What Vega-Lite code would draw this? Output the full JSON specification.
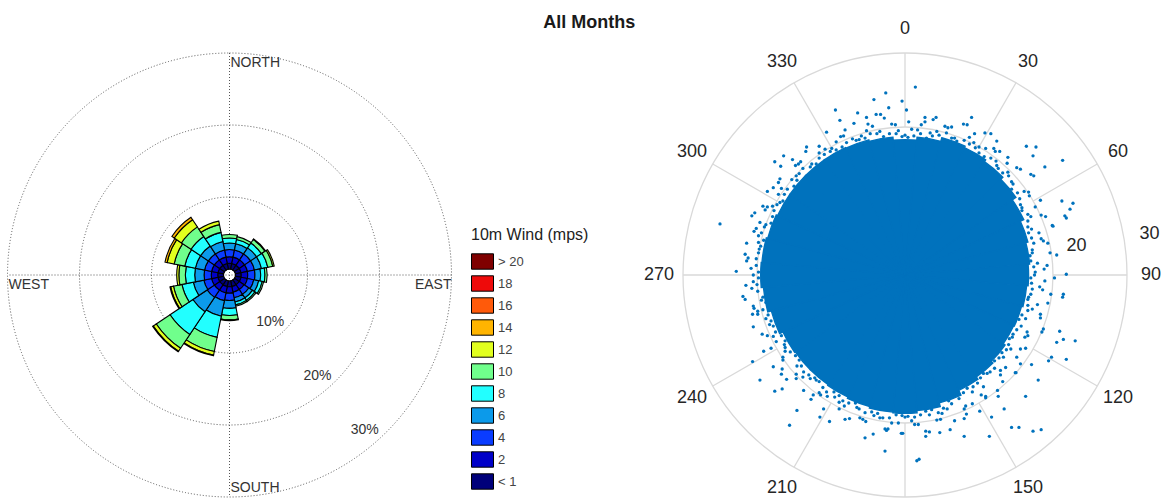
{
  "$schema": "https://vega.github.io/schema/vega-lite/v6.json",
  "background": "white",
  "padding": {"left": 5.5, "top": 14, "right": 0, "bottom": 0},
  "config": {"view": {"stroke": null}, "font": "Liberation Sans"},
  "title": {"text": "All Months", "fontSize": 18, "fontWeight": "bold", "font": "Liberation Sans", "color": "#1a1a1a", "anchor": "middle", "dx": 6, "offset": -12},
  "spacing": 231.5,
  "bounds": "flush",
  "resolve": {"scale": {"theta": "independent", "radius": "independent", "color": "independent", "x": "independent", "y": "independent"}, "legend": {"color": "independent"}},
  "datasets": {
    "dirs": [
      {"d": 0, "a0": -11.25, "a1": 11.25}, {"d": 22.5, "a0": 11.25, "a1": 33.75}, {"d": 45, "a0": 33.75, "a1": 56.25}, {"d": 67.5, "a0": 56.25, "a1": 78.75},
      {"d": 90, "a0": 78.75, "a1": 101.25}, {"d": 112.5, "a0": 101.25, "a1": 123.75}, {"d": 135, "a0": 123.75, "a1": 146.25}, {"d": 157.5, "a0": 146.25, "a1": 168.75},
      {"d": 180, "a0": 168.75, "a1": 191.25}, {"d": 202.5, "a0": 191.25, "a1": 213.75}, {"d": 225, "a0": 213.75, "a1": 236.25}, {"d": 247.5, "a0": 236.25, "a1": 258.75},
      {"d": 270, "a0": 258.75, "a1": 281.25}, {"d": 292.5, "a0": 281.25, "a1": 303.75}, {"d": 315, "a0": 303.75, "a1": 326.25}, {"d": 337.5, "a0": 326.25, "a1": 348.75}
    ],
    "rose": [
      {"d": 0, "s": 1, "p": 0.8}, {"d": 0, "s": 2, "p": 0.9}, {"d": 0, "s": 4, "p": 1.0}, {"d": 0, "s": 6, "p": 0.9}, {"d": 0, "s": 8, "p": 0.7}, {"d": 0, "s": 10, "p": 0.5},
      {"d": 22.5, "s": 1, "p": 0.8}, {"d": 22.5, "s": 2, "p": 0.9}, {"d": 22.5, "s": 4, "p": 1.0}, {"d": 22.5, "s": 6, "p": 0.9}, {"d": 22.5, "s": 8, "p": 0.6}, {"d": 22.5, "s": 10, "p": 0.4},
      {"d": 45, "s": 1, "p": 0.8}, {"d": 45, "s": 2, "p": 0.9}, {"d": 45, "s": 4, "p": 1.0}, {"d": 45, "s": 6, "p": 1.0}, {"d": 45, "s": 8, "p": 0.8}, {"d": 45, "s": 10, "p": 0.6}, {"d": 45, "s": 12, "p": 0.1},
      {"d": 67.5, "s": 1, "p": 0.8}, {"d": 67.5, "s": 2, "p": 0.9}, {"d": 67.5, "s": 4, "p": 1.0}, {"d": 67.5, "s": 6, "p": 1.0}, {"d": 67.5, "s": 8, "p": 0.9}, {"d": 67.5, "s": 10, "p": 0.7}, {"d": 67.5, "s": 12, "p": 0.2},
      {"d": 90, "s": 1, "p": 0.8}, {"d": 90, "s": 2, "p": 0.9}, {"d": 90, "s": 4, "p": 1.0}, {"d": 90, "s": 6, "p": 0.8}, {"d": 90, "s": 8, "p": 0.6}, {"d": 90, "s": 10, "p": 0.3},
      {"d": 112.5, "s": 1, "p": 0.8}, {"d": 112.5, "s": 2, "p": 0.9}, {"d": 112.5, "s": 4, "p": 0.9}, {"d": 112.5, "s": 6, "p": 0.7}, {"d": 112.5, "s": 8, "p": 0.5}, {"d": 112.5, "s": 10, "p": 0.2},
      {"d": 135, "s": 1, "p": 0.8}, {"d": 135, "s": 2, "p": 0.8}, {"d": 135, "s": 4, "p": 0.8}, {"d": 135, "s": 6, "p": 0.6}, {"d": 135, "s": 8, "p": 0.4}, {"d": 135, "s": 10, "p": 0.2},
      {"d": 157.5, "s": 1, "p": 0.8}, {"d": 157.5, "s": 2, "p": 0.8}, {"d": 157.5, "s": 4, "p": 0.8}, {"d": 157.5, "s": 6, "p": 0.6}, {"d": 157.5, "s": 8, "p": 0.4}, {"d": 157.5, "s": 10, "p": 0.2},
      {"d": 180, "s": 1, "p": 0.8}, {"d": 180, "s": 2, "p": 0.9}, {"d": 180, "s": 4, "p": 1.0}, {"d": 180, "s": 6, "p": 1.1}, {"d": 180, "s": 8, "p": 1.0}, {"d": 180, "s": 10, "p": 0.6}, {"d": 180, "s": 12, "p": 0.1},
      {"d": 202.5, "s": 1, "p": 0.8}, {"d": 202.5, "s": 2, "p": 0.9}, {"d": 202.5, "s": 4, "p": 1.1}, {"d": 202.5, "s": 6, "p": 2.2}, {"d": 202.5, "s": 8, "p": 3.0}, {"d": 202.5, "s": 10, "p": 2.0}, {"d": 202.5, "s": 12, "p": 0.5}, {"d": 202.5, "s": 14, "p": 0.1},
      {"d": 225, "s": 1, "p": 0.8}, {"d": 225, "s": 2, "p": 0.9}, {"d": 225, "s": 4, "p": 1.2}, {"d": 225, "s": 6, "p": 2.4}, {"d": 225, "s": 8, "p": 3.8}, {"d": 225, "s": 10, "p": 2.3}, {"d": 225, "s": 12, "p": 0.5}, {"d": 225, "s": 14, "p": 0.1},
      {"d": 247.5, "s": 1, "p": 0.8}, {"d": 247.5, "s": 2, "p": 0.9}, {"d": 247.5, "s": 4, "p": 1.1}, {"d": 247.5, "s": 6, "p": 1.5}, {"d": 247.5, "s": 8, "p": 1.6}, {"d": 247.5, "s": 10, "p": 1.2}, {"d": 247.5, "s": 12, "p": 0.4}, {"d": 247.5, "s": 14, "p": 0.1},
      {"d": 270, "s": 1, "p": 0.8}, {"d": 270, "s": 2, "p": 0.9}, {"d": 270, "s": 4, "p": 1.0}, {"d": 270, "s": 6, "p": 1.3}, {"d": 270, "s": 8, "p": 1.3}, {"d": 270, "s": 10, "p": 0.9}, {"d": 270, "s": 12, "p": 0.3},
      {"d": 292.5, "s": 1, "p": 0.8}, {"d": 292.5, "s": 2, "p": 0.9}, {"d": 292.5, "s": 4, "p": 1.0}, {"d": 292.5, "s": 6, "p": 1.3}, {"d": 292.5, "s": 8, "p": 1.5}, {"d": 292.5, "s": 10, "p": 1.5}, {"d": 292.5, "s": 12, "p": 1.0}, {"d": 292.5, "s": 14, "p": 0.3},
      {"d": 315, "s": 1, "p": 0.8}, {"d": 315, "s": 2, "p": 0.9}, {"d": 315, "s": 4, "p": 1.0}, {"d": 315, "s": 6, "p": 1.3}, {"d": 315, "s": 8, "p": 1.6}, {"d": 315, "s": 10, "p": 1.6}, {"d": 315, "s": 12, "p": 1.2}, {"d": 315, "s": 14, "p": 0.4},
      {"d": 337.5, "s": 1, "p": 0.8}, {"d": 337.5, "s": 2, "p": 0.9}, {"d": 337.5, "s": 4, "p": 1.0}, {"d": 337.5, "s": 6, "p": 1.2}, {"d": 337.5, "s": 8, "p": 1.3}, {"d": 337.5, "s": 10, "p": 1.1}, {"d": 337.5, "s": 12, "p": 0.5}
    ],
    "core": [
      {"a0": -5, "a1": 5, "r": 18.3}, {"a0": 5, "a1": 15, "r": 18.7}, {"a0": 15, "a1": 25, "r": 19.2}, {"a0": 25, "a1": 35, "r": 19.0},
      {"a0": 35, "a1": 45, "r": 18.7}, {"a0": 45, "a1": 55, "r": 18.3}, {"a0": 55, "a1": 65, "r": 17.7}, {"a0": 65, "a1": 75, "r": 17.2},
      {"a0": 75, "a1": 85, "r": 16.9}, {"a0": 85, "a1": 95, "r": 16.7}, {"a0": 95, "a1": 105, "r": 16.5}, {"a0": 105, "a1": 115, "r": 16.3},
      {"a0": 115, "a1": 125, "r": 16.2}, {"a0": 125, "a1": 135, "r": 16.5}, {"a0": 135, "a1": 145, "r": 16.8}, {"a0": 145, "a1": 155, "r": 17.2},
      {"a0": 155, "a1": 165, "r": 17.9}, {"a0": 165, "a1": 175, "r": 18.4}, {"a0": 175, "a1": 185, "r": 18.7}, {"a0": 185, "a1": 195, "r": 18.6},
      {"a0": 195, "a1": 205, "r": 18.4}, {"a0": 205, "a1": 215, "r": 18.2}, {"a0": 215, "a1": 225, "r": 18.1}, {"a0": 225, "a1": 235, "r": 18.1},
      {"a0": 235, "a1": 245, "r": 18.2}, {"a0": 245, "a1": 255, "r": 18.7}, {"a0": 255, "a1": 265, "r": 19.2}, {"a0": 265, "a1": 275, "r": 19.5},
      {"a0": 275, "a1": 285, "r": 19.4}, {"a0": 285, "a1": 295, "r": 19.2}, {"a0": 295, "a1": 305, "r": 19.0}, {"a0": 305, "a1": 315, "r": 19.0},
      {"a0": 315, "a1": 325, "r": 19.0}, {"a0": 325, "a1": 335, "r": 19.0}, {"a0": 335, "a1": 345, "r": 18.9}, {"a0": 345, "a1": 355, "r": 18.7}
    ],
    "pts": [
      {"x": 0, "y": 18.9}, {"x": 0.9, "y": 19.7}, {"x": 1.7, "y": 19.6}, {"x": 2.7, "y": 20.7}, {"x": 3.4, "y": 19.2}, {"x": 4.3, "y": 19.4}, {"x": 5.4, "y": 20.1}, {"x": 6.3, "y": 20.0}, {"x": 6.7, "y": 18.5}, {"x": 8.4, "y": 20.3}, {"x": 8.7, "y": 18.6}, {"x": 9.3, "y": 17.9}, {"x": 10.0, "y": 17.3}, {"x": 10.9, "y": 17.1}, {"x": 12.0, "y": 17.1}, {"x": 12.8, "y": 16.7}, {"x": 12.4, "y": 14.8}, {"x": 13.8, "y": 15.1}, {"x": 13.9, "y": 13.9}, {"x": 15.6, "y": 14.3}, {"x": 14.6, "y": 12.3}, {"x": 17.4, "y": 13.4}, {"x": 16.1, "y": 11.3}, {"x": 16.8, "y": 10.7}, {"x": 15.8, "y": 9.1}, {"x": 17.6, "y": 9.2}, {"x": 17.0, "y": 7.9}, {"x": 19.0, "y": 7.9}, {"x": 17.1, "y": 6.2}, {"x": 18.1, "y": 5.7}, {"x": 18.4, "y": 4.9}, {"x": 19.3, "y": 4.3}, {"x": 17.2, "y": 3.0}, {"x": 20.5, "y": 2.7}, {"x": 17.9, "y": 1.6}, {"x": 18.8, "y": 0.8},
      {"x": 17.5, "y": 0}, {"x": 18.9, "y": -0.8}, {"x": 18.2, "y": -1.6}, {"x": 19.7, "y": -2.6}, {"x": 16.7, "y": -3.0}, {"x": 17.9, "y": -4.0}, {"x": 17.2, "y": -4.6}, {"x": 18.3, "y": -5.8}, {"x": 16.3, "y": -5.9}, {"x": 18.5, "y": -7.7}, {"x": 16.5, "y": -7.7}, {"x": 16.2, "y": -8.4}, {"x": 14.5, "y": -8.4}, {"x": 15.6, "y": -10.0}, {"x": 14.3, "y": -10.0}, {"x": 15.6, "y": -12.0}, {"x": 13.3, "y": -11.1}, {"x": 13.6, "y": -12.5}, {"x": 12.9, "y": -12.9}, {"x": 13.2, "y": -14.4}, {"x": 11.1, "y": -13.3}, {"x": 12.6, "y": -16.4}, {"x": 10.6, "y": -15.1}, {"x": 10.3, "y": -16.2}, {"x": 9.1, "y": -15.8}, {"x": 9.1, "y": -17.4}, {"x": 8.2, "y": -17.7}, {"x": 8.0, "y": -19.4}, {"x": 6.3, "y": -17.4}, {"x": 5.7, "y": -18.1}, {"x": 5.0, "y": -18.7}, {"x": 4.3, "y": -19.6}, {"x": 3.3, "y": -18.9}, {"x": 2.8, "y": -21.1}, {"x": 1.8, "y": -20.2}, {"x": 0.9, "y": -19.7},
      {"x": 0, "y": -19.2}, {"x": -0.9, "y": -20.0}, {"x": -1.8, "y": -20.0}, {"x": -2.7, "y": -20.8}, {"x": -3.4, "y": -19.3}, {"x": -4.2, "y": -19.0}, {"x": -5.3, "y": -19.8}, {"x": -6.1, "y": -19.3}, {"x": -6.5, "y": -17.9}, {"x": -8.1, "y": -19.5}, {"x": -8.2, "y": -17.7}, {"x": -8.9, "y": -17.2}, {"x": -9.5, "y": -16.5}, {"x": -10.5, "y": -16.4}, {"x": -11.4, "y": -16.2}, {"x": -12.4, "y": -16.2}, {"x": -12.0, "y": -14.2}, {"x": -12.8, "y": -14.0}, {"x": -13.8, "y": -13.8}, {"x": -14.7, "y": -13.4}, {"x": -14.6, "y": -12.3}, {"x": -16.6, "y": -12.7}, {"x": -16.5, "y": -11.5}, {"x": -16.2, "y": -10.3}, {"x": -16.3, "y": -9.4}, {"x": -17.4, "y": -9.0}, {"x": -17.8, "y": -8.3}, {"x": -19.3, "y": -8.0}, {"x": -18.3, "y": -6.7}, {"x": -18.8, "y": -5.9}, {"x": -19.9, "y": -5.3}, {"x": -20.4, "y": -4.5}, {"x": -19.4, "y": -3.4}, {"x": -21.9, "y": -2.9}, {"x": -20.7, "y": -1.8}, {"x": -20.5, "y": -0.9},
      {"x": -20.5, "y": 0}, {"x": -20.8, "y": 0.9}, {"x": -21.4, "y": 1.9}, {"x": -21.6, "y": 2.8}, {"x": -19.7, "y": 3.5}, {"x": -19.8, "y": 4.4}, {"x": -19.8, "y": 5.3}, {"x": -20.1, "y": 6.3}, {"x": -18.8, "y": 6.8}, {"x": -20.3, "y": 8.4}, {"x": -18.9, "y": 8.8}, {"x": -17.9, "y": 9.3}, {"x": -16.9, "y": 9.8}, {"x": -17.1, "y": 10.9}, {"x": -16.7, "y": 11.7}, {"x": -16.9, "y": 13.0}, {"x": -15.3, "y": 12.9}, {"x": -14.7, "y": 13.4}, {"x": -14.8, "y": 14.8}, {"x": -14.1, "y": 15.3}, {"x": -12.6, "y": 15.0}, {"x": -13.3, "y": 17.3}, {"x": -11.6, "y": 16.5}, {"x": -10.8, "y": 17.0}, {"x": -9.9, "y": 17.1}, {"x": -9.3, "y": 18.0}, {"x": -8.7, "y": 18.7}, {"x": -8.1, "y": 19.6}, {"x": -6.6, "y": 18.2}, {"x": -5.9, "y": 18.8}, {"x": -5.2, "y": 19.5}, {"x": -4.4, "y": 20.1}, {"x": -3.4, "y": 19.4}, {"x": -2.8, "y": 21.2}, {"x": -1.8, "y": 20.4}, {"x": -0.9, "y": 19.5},
      {"x": 0.4, "y": 18.6}, {"x": 2.1, "y": 19.1}, {"x": 3.7, "y": 18.8}, {"x": 5.6, "y": 19.2}, {"x": 7.0, "y": 18.1}, {"x": 8.7, "y": 17.7}, {"x": 10.0, "y": 16.5}, {"x": 11.6, "y": 15.8}, {"x": 12.6, "y": 14.4}, {"x": 14.0, "y": 13.4}, {"x": 14.4, "y": 11.6}, {"x": 15.5, "y": 10.3}, {"x": 15.8, "y": 8.7}, {"x": 16.6, "y": 7.3}, {"x": 16.7, "y": 5.7}, {"x": 17.4, "y": 4.3}, {"x": 16.9, "y": 2.6}, {"x": 17.4, "y": 1.1},
      {"x": 17.0, "y": -0.4}, {"x": 17.2, "y": -1.9}, {"x": 16.6, "y": -3.3}, {"x": 16.6, "y": -4.8}, {"x": 15.4, "y": -6.0}, {"x": 15.1, "y": -7.4}, {"x": 14.1, "y": -8.6}, {"x": 13.7, "y": -10.1}, {"x": 12.7, "y": -11.2}, {"x": 12.1, "y": -12.6}, {"x": 10.6, "y": -13.3}, {"x": 9.8, "y": -14.6}, {"x": 8.4, "y": -15.3}, {"x": 7.3, "y": -16.7}, {"x": 5.9, "y": -17.0}, {"x": 4.5, "y": -18.6}, {"x": 2.8, "y": -18.4}, {"x": 1.3, "y": -19.2},
      {"x": -0.4, "y": -19.0}, {"x": -2.1, "y": -19.3}, {"x": -3.7, "y": -18.7}, {"x": -5.4, "y": -18.6}, {"x": -6.7, "y": -17.3}, {"x": -8.4, "y": -17.0}, {"x": -9.6, "y": -15.8}, {"x": -11.1, "y": -15.2}, {"x": -12.2, "y": -13.9}, {"x": -13.7, "y": -13.1}, {"x": -14.3, "y": -11.5}, {"x": -15.5, "y": -10.4}, {"x": -16.2, "y": -8.9}, {"x": -17.5, "y": -7.7}, {"x": -18.1, "y": -6.2}, {"x": -19.2, "y": -4.7}, {"x": -19.2, "y": -3.0}, {"x": -20.0, "y": -1.3},
      {"x": -19.8, "y": 0.4}, {"x": -20.1, "y": 2.2}, {"x": -19.5, "y": 3.9}, {"x": -19.4, "y": 5.7}, {"x": -18.1, "y": 7.0}, {"x": -17.7, "y": 8.7}, {"x": -16.5, "y": 10.0}, {"x": -15.9, "y": 11.6}, {"x": -14.6, "y": 12.8}, {"x": -13.8, "y": 14.4}, {"x": -12.0, "y": 15.0}, {"x": -10.9, "y": 16.3}, {"x": -9.3, "y": 16.9}, {"x": -7.9, "y": 17.9}, {"x": -6.2, "y": 18.3}, {"x": -4.7, "y": 19.1}, {"x": -2.9, "y": 18.7}, {"x": -1.2, "y": 19.1},
      {"x": 1.2, "y": 18.8}, {"x": 2.9, "y": 18.5}, {"x": 4.6, "y": 18.9}, {"x": 6.3, "y": 18.5}, {"x": 8.0, "y": 18.2}, {"x": 9.5, "y": 17.2}, {"x": 10.7, "y": 16.0}, {"x": 12.3, "y": 15.4}, {"x": 13.2, "y": 13.8}, {"x": 14.4, "y": 12.6}, {"x": 15.2, "y": 11.1}, {"x": 15.6, "y": 9.5}, {"x": 16.6, "y": 8.2}, {"x": 16.6, "y": 6.5}, {"x": 17.1, "y": 5.0}, {"x": 17.2, "y": 3.4}, {"x": 17.0, "y": 1.9}, {"x": 17.6, "y": 0.4},
      {"x": 17.1, "y": -1.1}, {"x": 17.0, "y": -2.6}, {"x": 16.6, "y": -4.1}, {"x": 15.8, "y": -5.4}, {"x": 15.7, "y": -6.9}, {"x": 14.6, "y": -8.0}, {"x": 14.0, "y": -9.4}, {"x": 13.1, "y": -10.5}, {"x": 12.1, "y": -11.6}, {"x": 11.5, "y": -13.1}, {"x": 10.2, "y": -13.9}, {"x": 9.2, "y": -15.1}, {"x": 7.9, "y": -15.9}, {"x": 6.4, "y": -16.5}, {"x": 5.2, "y": -18.0}, {"x": 3.6, "y": -18.2}, {"x": 2.1, "y": -18.9}, {"x": 0.4, "y": -19.1},
      {"x": -1.2, "y": -18.9}, {"x": -3.0, "y": -19.3}, {"x": -4.5, "y": -18.5}, {"x": -6.2, "y": -18.1}, {"x": -7.6, "y": -17.3}, {"x": -8.9, "y": -16.3}, {"x": -10.6, "y": -15.8}, {"x": -11.6, "y": -14.4}, {"x": -13.0, "y": -13.5}, {"x": -14.0, "y": -12.3}, {"x": -14.8, "y": -10.9}, {"x": -16.2, "y": -9.8}, {"x": -16.7, "y": -8.2}, {"x": -17.8, "y": -6.9}, {"x": -18.5, "y": -5.4}, {"x": -18.8, "y": -3.7}, {"x": -19.9, "y": -2.2}, {"x": -19.8, "y": -0.4},
      {"x": -20.1, "y": 1.3}, {"x": -19.8, "y": 3.0}, {"x": -19.1, "y": 4.7}, {"x": -19.0, "y": 6.5}, {"x": -17.9, "y": 7.9}, {"x": -17.3, "y": 9.5}, {"x": -16.3, "y": 10.9}, {"x": -15.0, "y": 12.0}, {"x": -14.3, "y": 13.7}, {"x": -12.8, "y": 14.6}, {"x": -11.6, "y": 15.8}, {"x": -10.1, "y": 16.7}, {"x": -8.5, "y": 17.3}, {"x": -7.1, "y": 18.4}, {"x": -5.4, "y": 18.5}, {"x": -3.8, "y": 19.1}, {"x": -2.1, "y": 19.1}, {"x": -0.4, "y": 18.7},
      {"x": 0.5, "y": 20.7}, {"x": 2.2, "y": 20.3}, {"x": 4.2, "y": 21.3}, {"x": 5.8, "y": 19.9}, {"x": 7.9, "y": 20.4}, {"x": 9.4, "y": 19.1}, {"x": 11.6, "y": 19.1}, {"x": 12.2, "y": 16.7}, {"x": 13.9, "y": 15.9}, {"x": 15.1, "y": 14.5}, {"x": 17.0, "y": 13.6}, {"x": 16.7, "y": 11.2}, {"x": 18.3, "y": 10.1}, {"x": 18.4, "y": 8.1}, {"x": 19.9, "y": 6.7}, {"x": 18.7, "y": 4.6}, {"x": 19.6, "y": 3.0}, {"x": 19.2, "y": 1.3},
      {"x": 20.2, "y": -0.4}, {"x": 18.6, "y": -2.0}, {"x": 19.3, "y": -3.8}, {"x": 18.3, "y": -5.3}, {"x": 18.7, "y": -7.3}, {"x": 16.6, "y": -8.2}, {"x": 16.3, "y": -9.9}, {"x": 15.1, "y": -11.1}, {"x": 15.0, "y": -13.2}, {"x": 12.9, "y": -13.5}, {"x": 12.5, "y": -15.6}, {"x": 10.9, "y": -16.4}, {"x": 10.1, "y": -18.4}, {"x": 8.0, "y": -18.1}, {"x": 6.7, "y": -19.7}, {"x": 4.8, "y": -19.5}, {"x": 3.3, "y": -21.2}, {"x": 1.3, "y": -20.2},
      {"x": -0.5, "y": -21.4}, {"x": -2.3, "y": -20.8}, {"x": -4.3, "y": -21.5}, {"x": -5.7, "y": -19.5}, {"x": -7.5, "y": -19.4}, {"x": -8.9, "y": -18.1}, {"x": -11.0, "y": -18.1}, {"x": -11.6, "y": -15.9}, {"x": -13.7, "y": -15.6}, {"x": -14.7, "y": -14.0}, {"x": -16.7, "y": -13.4}, {"x": -16.5, "y": -11.1}, {"x": -18.1, "y": -9.9}, {"x": -18.6, "y": -8.2}, {"x": -20.5, "y": -7.0}, {"x": -19.9, "y": -4.9}, {"x": -21.6, "y": -3.3}, {"x": -21.5, "y": -1.4},
      {"x": -22.8, "y": 0.5}, {"x": -21.2, "y": 2.3}, {"x": -21.4, "y": 4.3}, {"x": -20.4, "y": 5.9}, {"x": -20.7, "y": 8.0}, {"x": -18.6, "y": 9.2}, {"x": -18.6, "y": 11.3}, {"x": -17.1, "y": 12.5}, {"x": -16.8, "y": 14.7}, {"x": -14.4, "y": 15.0}, {"x": -13.4, "y": 16.7}, {"x": -11.6, "y": 17.4}, {"x": -10.6, "y": 19.3}, {"x": -8.3, "y": 18.8}, {"x": -6.9, "y": 20.5}, {"x": -5.0, "y": 20.4}, {"x": -3.3, "y": 21.7}, {"x": -1.3, "y": 20.3},
      {"x": -25.0, "y": 6.9}, {"x": -2.6, "y": 24.6}, {"x": -4.2, "y": 23.7}, {"x": -0.4, "y": 23.5}, {"x": -9.4, "y": 22.3}, {"x": -6.4, "y": 21.9}, {"x": -5.2, "y": 21.3}, {"x": -8.8, "y": 20.9}, {"x": -3.9, "y": 21.7}, {"x": -2.2, "y": 22.6}, {"x": -17.6, "y": 15.3}, {"x": -16.4, "y": 16.1}, {"x": -15.2, "y": 15.6}, {"x": -19.6, "y": 7.1}, {"x": -19.2, "y": 9.3}, {"x": -17.8, "y": 11.8},
      {"x": 1.4, "y": 25.4}, {"x": 9.0, "y": 21.3}, {"x": 16.4, "y": 17.4}, {"x": 17.7, "y": 17.3}, {"x": 17.3, "y": 16.1}, {"x": 21.3, "y": 15.5}, {"x": 18.9, "y": 14.6}, {"x": 22.7, "y": 9.7}, {"x": 22.3, "y": 8.9}, {"x": 21.8, "y": 7.7}, {"x": 21.2, "y": 10.0}, {"x": 20.0, "y": 6.6}, {"x": 21.8, "y": 0.1}, {"x": 12.4, "y": 18.1}, {"x": 10.8, "y": 19.2}, {"x": 0.2, "y": 22.3}, {"x": 2.7, "y": 21.3}, {"x": 3.8, "y": 21.0}, {"x": 21.6, "y": 8.0}, {"x": 21.4, "y": -2.6},
      {"x": -20.6, "y": -11.7}, {"x": -19.6, "y": -14.2}, {"x": -17.6, "y": -15.7}, {"x": -16.6, "y": -15.4}, {"x": -15.6, "y": -20.3}, {"x": -14.6, "y": -18.3}, {"x": -11.5, "y": -19.2}, {"x": -10.2, "y": -19.8}, {"x": -5.4, "y": -22.0}, {"x": -2.7, "y": -23.8}, {"x": -2.5, "y": -21.0}, {"x": -0.3, "y": -21.4}, {"x": -19.1, "y": -10.3}, {"x": -17.8, "y": -12.4}, {"x": -16.0, "y": -14.1}, {"x": -12.7, "y": -16.8}, {"x": -20.6, "y": -5.3}, {"x": -20.5, "y": -4.2}, {"x": 1.6, "y": -25.1}, {"x": 1.9, "y": -24.9},
      {"x": 8.0, "y": -21.8}, {"x": 11.4, "y": -21.8}, {"x": 14.4, "y": -20.6}, {"x": 15.4, "y": -20.6}, {"x": 17.3, "y": -21.1}, {"x": 18.4, "y": -20.9}, {"x": 13.4, "y": -18.1}, {"x": 11.7, "y": -19.2}, {"x": 16.3, "y": -16.4}, {"x": 18.0, "y": -14.2}, {"x": 21.8, "y": -11.4}, {"x": 23.0, "y": -8.9}, {"x": 19.8, "y": -11.1}, {"x": 19.4, "y": -11.6}, {"x": 20.9, "y": -7.6}, {"x": 20.5, "y": -9.1}, {"x": 21.4, "y": -8.7}, {"x": 21.3, "y": -3.0}, {"x": 14.9, "y": -13.2}, {"x": 17.1, "y": -12.1}, {"x": 6.1, "y": -20.9}, {"x": 4.7, "y": -21.3}, {"x": 2.8, "y": -21.8}, {"x": 8.3, "y": -18.8}, {"x": 10.9, "y": -16.6}
    ]
  },
  "hconcat": [
    {
      "width": 444,
      "height": 444,
      "layer": [
        {
          "data": {"values": [{"ring": 10}, {"ring": 20}, {"ring": 30}]},
          "mark": {"type": "arc", "theta": 0, "theta2": 6.2832, "filled": false, "stroke": "#555555", "strokeWidth": 1, "strokeDash": [1, 2]},
          "encoding": {
            "radius": {"field": "ring", "type": "quantitative", "stack": null, "scale": {"type": "linear", "domain": [0, 30], "range": [6, 222], "zero": false, "nice": false}}
          }
        },
        {
          "data": {"values": [{"v": 0}]},
          "mark": {"type": "rule", "stroke": "#555555", "strokeWidth": 1, "strokeDash": [1, 2]},
          "encoding": {"x": {"field": "v", "type": "quantitative", "scale": {"domain": [-1, 1], "nice": false, "zero": false}, "axis": null}}
        },
        {
          "data": {"values": [{"v": 0}]},
          "mark": {"type": "rule", "stroke": "#555555", "strokeWidth": 1, "strokeDash": [1, 2]},
          "encoding": {"y": {"field": "v", "type": "quantitative", "scale": {"domain": [-1, 1], "nice": false, "zero": false}, "axis": null}}
        },
        {
          "data": {"name": "rose"},
          "transform": [
            {"lookup": "d", "from": {"data": {"name": "dirs"}, "key": "d", "fields": ["a0", "a1"]}},
            {"stack": "p", "groupby": ["d"], "sort": [{"field": "s", "order": "ascending"}], "as": ["r0", "r1"]}
          ],
          "mark": {"type": "arc", "stroke": "#000000", "strokeWidth": 1.1},
          "encoding": {
            "theta": {"field": "a0", "type": "quantitative", "stack": null, "scale": {"domain": [0, 360], "range": [0, 6.283185307179586]}},
            "theta2": {"field": "a1"},
            "radius": {"field": "r1", "type": "quantitative", "stack": null},
            "radius2": {"field": "r0"},
            "color": {
              "field": "s", "type": "nominal",
              "scale": {"domain": [20, 18, 16, 14, 12, 10, 8, 6, 4, 2, 1], "range": ["#7f0000", "#ee0a0a", "#ff5a0a", "#ffb400", "#e2ff1e", "#70ff8c", "#22ffff", "#0c9aea", "#0a3cff", "#0000c8", "#00007a"]},
              "legend": {
                "orient": "none", "legendX": 463.5, "legendY": 174, "padding": 0,
                "title": "10m Wind (mps)", "titleFontSize": 16, "titleFontWeight": "normal", "titleColor": "#222222", "titleFont": "Liberation Sans", "titlePadding": 7,
                "labelFontSize": 13, "labelColor": "#444444", "labelFont": "Liberation Sans", "labelOffset": 4,
                "symbolType": "M-1,-0.7H1V0.7H-1Z", "symbolSize": 484, "symbolStrokeColor": "#000000", "symbolStrokeWidth": 1, "symbolOpacity": 1, "rowPadding": 0,
                "labelExpr": "datum.value == 20 ? '> 20' : datum.value == 1 ? '< 1' : datum.label"
              }
            }
          }
        },
        {
          "data": {"values": [{"t": "NORTH", "a": 0}, {"t": "WEST", "a": 270}]},
          "mark": {"type": "text", "align": "left", "baseline": "top", "dx": 1, "dy": 3, "fontSize": 14, "color": "#333333"},
          "encoding": {"theta": {"field": "a", "type": "quantitative", "stack": null}, "radius": {"datum": 30}, "text": {"field": "t"}}
        },
        {
          "data": {"values": [{"t": "EAST", "a": 90}]},
          "mark": {"type": "text", "align": "right", "baseline": "top", "dy": 3, "fontSize": 14, "color": "#333333"},
          "encoding": {"theta": {"field": "a", "type": "quantitative", "stack": null}, "radius": {"datum": 30}, "text": {"field": "t"}}
        },
        {
          "data": {"values": [{"t": "SOUTH", "a": 180}]},
          "mark": {"type": "text", "align": "left", "baseline": "bottom", "dx": 1, "dy": -2, "fontSize": 14, "color": "#333333"},
          "encoding": {"theta": {"field": "a", "type": "quantitative", "stack": null}, "radius": {"datum": 30}, "text": {"field": "t"}}
        },
        {
          "data": {"values": [{"ring": 10, "t": "10%"}, {"ring": 20, "t": "20%"}, {"ring": 30, "t": "30%"}]},
          "mark": {"type": "text", "fontSize": 14, "color": "#333333", "radiusOffset": -16},
          "encoding": {"theta": {"datum": 139}, "radius": {"field": "ring", "type": "quantitative", "stack": null}, "text": {"field": "t"}}
        }
      ]
    },
    {
      "width": 444,
      "height": 444,
      "layer": [
        {
          "data": {"values": [{"ring": 20}, {"ring": 30}]},
          "mark": {"type": "arc", "theta": 0, "theta2": 6.2832, "filled": false, "stroke": "#d9d9d9", "strokeWidth": 1.3},
          "encoding": {
            "radius": {"field": "ring", "type": "quantitative", "stack": null, "scale": {"type": "linear", "domain": [0, 30], "range": [0, 222], "zero": true, "nice": false}}
          }
        },
        {
          "data": {"values": [{"a": 0}, {"a": 30}, {"a": 60}, {"a": 90}, {"a": 120}, {"a": 150}, {"a": 180}, {"a": 210}, {"a": 240}, {"a": 270}, {"a": 300}, {"a": 330}]},
          "mark": {"type": "arc", "filled": false, "stroke": "#d9d9d9", "strokeWidth": 1.3},
          "encoding": {
            "theta": {"field": "a", "type": "quantitative", "stack": null, "scale": {"domain": [0, 360], "range": [0, 6.283185307179586]}},
            "theta2": {"field": "a"},
            "radius": {"datum": 30},
            "radius2": {"datum": 20}
          }
        },
        {
          "data": {"name": "core"},
          "mark": {"type": "arc", "fill": "#0072bd", "stroke": "#0072bd", "strokeWidth": 1.4},
          "encoding": {
            "theta": {"field": "a0", "type": "quantitative", "stack": null},
            "theta2": {"field": "a1"},
            "radius": {"field": "r", "type": "quantitative", "stack": null}
          }
        },
        {
          "data": {"name": "pts"},
          "mark": {"type": "circle", "size": 11, "color": "#0072bd", "opacity": 1},
          "encoding": {
            "x": {"field": "x", "type": "quantitative", "scale": {"domain": [-30, 30], "nice": false, "zero": false}, "axis": null},
            "y": {"field": "y", "type": "quantitative", "scale": {"domain": [-30, 30], "nice": false, "zero": false}, "axis": null}
          }
        },
        {
          "data": {"values": [{"a": 0, "t": "0"}, {"a": 30, "t": "30"}, {"a": 60, "t": "60"}, {"a": 90, "t": "90"}, {"a": 120, "t": "120"}, {"a": 150, "t": "150"}, {"a": 210, "t": "210"}, {"a": 240, "t": "240"}, {"a": 270, "t": "270"}, {"a": 300, "t": "300"}, {"a": 330, "t": "330"}]},
          "mark": {"type": "text", "fontSize": 18, "color": "#262626", "radiusOffset": 24},
          "encoding": {"theta": {"field": "a", "type": "quantitative", "stack": null}, "radius": {"datum": 30}, "text": {"field": "t"}}
        },
        {
          "data": {"values": [{"r": 20}, {"r": 30}]},
          "mark": {"type": "text", "fontSize": 18, "color": "#262626", "radiusOffset": 26},
          "encoding": {"theta": {"datum": 80.5}, "radius": {"field": "r", "type": "quantitative", "stack": null}, "text": {"field": "r", "type": "quantitative"}}
        }
      ]
    }
  ]
}
